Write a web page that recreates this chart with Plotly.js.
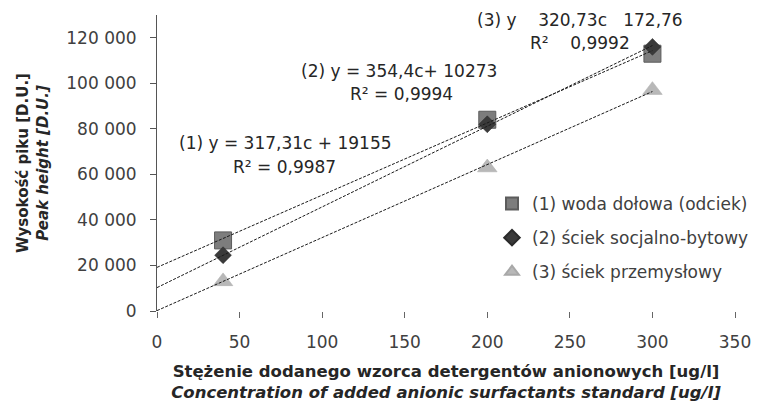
<!DOCTYPE html>
<html><head><meta charset="utf-8">
<script src="https://cdn.plot.ly/plotly-3.0.1.min.js"></script>
<style>html,body{margin:0;padding:0;background:#fff}#chart{width:770px;height:402px}</style>
</head><body><div id="chart"></div>
<script>
// ---- data ----
const concentrations = [40, 200, 300];
const seriesNames = ['(1) woda dołowa (odciek)', '(2) ściek socjalno-bytowy', '(3) ściek przemysłowy'];
const peakWoda = [31000, 84000, 113000];
const peakSocjalny = [24500, 82000, 116000];
const peakPrzemyslowy = [13000, 63000, 97000];
const trendSlopes = [317.31, 354.4, 320.73];
const trendIntercepts = [19155, 10273, 172.76];
const trendRange = [0, 300];
const equationLabels = ['(1) y = 317,31c + 19155', '(2) y = 354,4c+ 10273', '(3) y\u00a0\u00a0\u00a0\u00a0320,73c\u00a0\u00a0\u00a0172,76'];
const r2Labels = ['R² = 0,9987', 'R² = 0,9994', 'R²\u00a0\u00a0\u00a0\u00a00,9992'];
const yTickVals = [0, 20000, 40000, 60000, 80000, 100000, 120000];
const yTickText = ['0', '20 000', '40 000', '60 000', '80 000', '100 000', '120 000'];
const xTickVals = [0, 50, 100, 150, 200, 250, 300, 350];
const xTickText = ['0', '50', '100', '150', '200', '250', '300', '350'];
const yTitle = ['Wysokość piku [D.U.]', 'Peak height [D.U.]'];
const xTitle = ['Stężenie dodanego wzorca detergentów anionowych [ug/l]', 'Concentration of added anionic surfactants standard [ug/l]'];

// ---- layout geometry ----
const W = 770, H = 402;
const M = {l: 157, r: 35, t: 15, b: 91};
const px = x => (x - M.l) / (W - M.l - M.r);
const py = y => (H - M.b - y) / (H - M.t - M.b);

const FONT = '"DejaVu Sans", sans-serif';
const markerStyles = [
  {symbol: 'square', size: 17, color: '#7d7d7d', line: {color: '#5c5c5c', width: 1}},
  {symbol: 'diamond', size: 13, color: '#3a3a3a', line: {color: '#2a2a2a', width: 0.5}},
  {symbol: 'triangle-up', size: 17, color: '#b8b8b8', line: {color: '#a8a8a8', width: 0.5}}
];
const seriesValues = [peakWoda, peakSocjalny, peakPrzemyslowy];

const traces = [];
seriesValues.forEach((vals, i) => {
  traces.push({
    type: 'scatter', mode: 'markers', x: concentrations, y: vals,
    name: seriesNames[i], legendgroup: 'g' + i,
    marker: markerStyles[i], cliponaxis: false
  });
});
seriesValues.forEach((vals, i) => {
  traces.push({
    type: 'scatter', mode: 'lines', x: trendRange,
    y: trendRange.map(c => trendSlopes[i] * c + trendIntercepts[i]),
    showlegend: false, hoverinfo: 'skip',
    line: {color: '#1a1a1a', width: 1, dash: '3px,1.5px'}
  });
});

const annFont = {family: FONT, size: 17, color: '#262626'};
const eqPos = [[285, 143, 284, 167], [399, 71, 401, 94], [580, 20, 580, 43]];
const annotations = [];
eqPos.forEach((p, i) => {
  annotations.push({xref: 'paper', yref: 'paper', x: px(p[0]), y: py(p[1]), text: equationLabels[i],
    showarrow: false, xanchor: 'center', yanchor: 'middle', font: annFont});
  annotations.push({xref: 'paper', yref: 'paper', x: px(p[2]), y: py(p[3]), text: r2Labels[i],
    showarrow: false, xanchor: 'center', yanchor: 'middle', font: annFont});
});

const layout = {
  width: W, height: H, margin: M,
  paper_bgcolor: '#fff', plot_bgcolor: '#fff',
  font: {family: FONT, color: '#404040'},
  showlegend: true,
  legend: {x: px(492), y: py(186), xanchor: 'left', yanchor: 'top',
    font: {family: FONT, size: 17, color: '#404040'}, itemsizing: 'constant',
    traceorder: 'grouped', tracegroupgap: 9, bgcolor: 'rgba(0,0,0,0)'},
  xaxis: {range: [0, 350], tickvals: xTickVals, ticktext: xTickText,
    showline: false, showgrid: false, zeroline: false, automargin: false,
    ticks: 'outside', ticklen: 6, tickcolor: '#666', tickwidth: 1,
    ticklabelstandoff: 10,
    tickfont: {family: FONT, size: 17, color: '#404040'},
    title: {text: '<b>' + xTitle[0] + '</b><br><b><i>' + xTitle[1] + '</i></b>',
      font: {family: FONT, size: 16.5, color: '#262626'}, standoff: 16}},
  yaxis: {range: [0, 130000], tickvals: yTickVals, ticktext: yTickText,
    showline: true, linecolor: '#555', linewidth: 1, showgrid: false, zeroline: false, automargin: false,
    ticks: 'outside', ticklen: 6, tickcolor: '#555', tickwidth: 1,
    ticklabelstandoff: 10,
    tickfont: {family: FONT, size: 17, color: '#404040'},
    title: {text: '<b>' + yTitle[0] + '</b><br><b><i>' + yTitle[1] + '</i></b>',
      font: {family: FONT, size: 15, color: '#262626'}, standoff: 14}},
  annotations: annotations
};

Plotly.newPlot('chart', traces, layout, {displayModeBar: false, staticPlot: true});
</script>
</body></html>
